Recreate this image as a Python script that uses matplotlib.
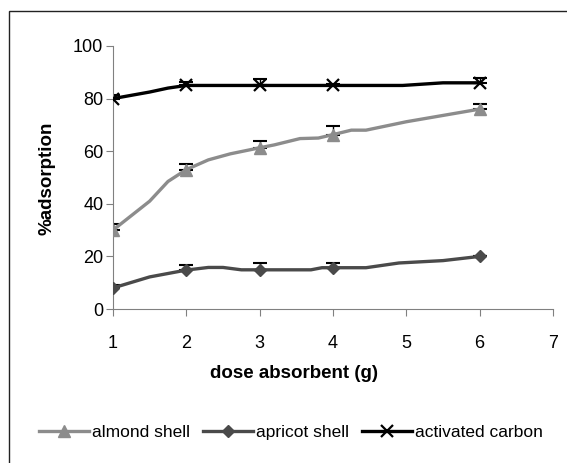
import matplotlib
matplotlib.use('Agg')
import matplotlib.pyplot as plt
from matplotlib.patches import Rectangle

plt.rcParams['font.family'] = ['Liberation Sans', 'DejaVu Sans']

# measured doses (marked points)
dose = [1, 2, 3, 4, 6]

# smoothed curves as drawn in the chart
almond_x = [1, 1.5, 1.75, 2, 2.3, 2.6, 3, 3.2, 3.55, 3.8, 4, 4.25, 4.45, 5, 5.5, 6]
almond_y = [30, 41, 48.5, 53, 56.7, 59, 61.3, 62.4, 64.8, 65, 66.3, 68, 68, 71.2, 73.6, 76]
apricot_x = [1, 1.5, 2, 2.3, 2.5, 2.75, 3, 3.7, 3.85, 4, 4.45, 4.9, 5.5, 6]
apricot_y = [8, 12.2, 14.8, 15.8, 15.8, 14.9, 14.9, 14.9, 15.7, 15.7, 15.7, 17.5, 18.4, 20]
carbon_x = [1, 1.5, 1.75, 2, 3, 4, 4.95, 5.5, 6]
carbon_y = [80, 82.5, 84, 85, 85, 85, 85, 86, 86]

# upper error bars at the marked doses
almond_err = [2.2, 2.0, 2.4, 3.4, 1.9]
apricot_err = [1.3, 1.8, 2.6, 1.7, 0.3]
carbon_err = [1.5, 1.5, 2.5, 0.5, 2.0]

series = [
    ('almond shell', almond_x, almond_y, almond_err, '#8c8c8c', '^', 8.5, 1),
    ('apricot shell', apricot_x, apricot_y, apricot_err, '#4a4a4a', 'D', 6, 1),
    ('activated carbon', carbon_x, carbon_y, carbon_err, '#000000', 'x', 8, 1.6),
]

fig = plt.figure(figsize=(5.67, 4.63), dpi=100)
ax = fig.add_axes([113 / 567, 1 - 309 / 463, 440 / 567, 263 / 463])

for name, xs, ys, err, col, mk, ms, mew in series:
    marks = [xs.index(d) for d in dose]
    ax.plot(xs, ys, color=col, lw=2.4, marker=mk, markevery=marks, ms=ms,
            mew=mew, solid_joinstyle='round', label=name, zorder=3)
    my = [ys[i] for i in marks]
    ax.errorbar(dose, my, yerr=[[0] * len(err), err], fmt='none', ecolor='black',
                elinewidth=1, capsize=4.7, capthick=1.5, zorder=2)

ax.set_xlim(1, 7)
ax.set_ylim(0, 100)
ax.set_xticks(range(1, 8))
ax.set_yticks(range(0, 101, 20))
for s in ['top', 'right']:
    ax.spines[s].set_visible(False)
for s in ['left', 'bottom']:
    ax.spines[s].set_color('#808080')
ax.tick_params(labelsize=13, color='#808080', length=5)
ax.tick_params(axis='x', pad=14)
ax.tick_params(axis='y', pad=2)

fig.text(294 / 567, 1 - 373 / 463, 'dose absorbent (g)', fontsize=13.5, fontweight='bold',
         ha='center', va='center')
fig.text(47 / 567, 1 - 178 / 463, '%adsorption', fontsize=13.5, fontweight='bold',
         ha='center', va='center', rotation=90)

fig.legend(loc='center', bbox_to_anchor=(291 / 567, 1 - 432 / 463), ncol=3, frameon=False,
           fontsize=12.5, handlelength=2.9, handletextpad=0.2, columnspacing=0.7)

fig.patches.append(Rectangle((9 / 567, -0.1), 1.2, 1 - 11 / 463 + 0.1, transform=fig.transFigure,
                             fill=False, edgecolor='#222222', lw=1))

fig.savefig('out.png', dpi=100)
